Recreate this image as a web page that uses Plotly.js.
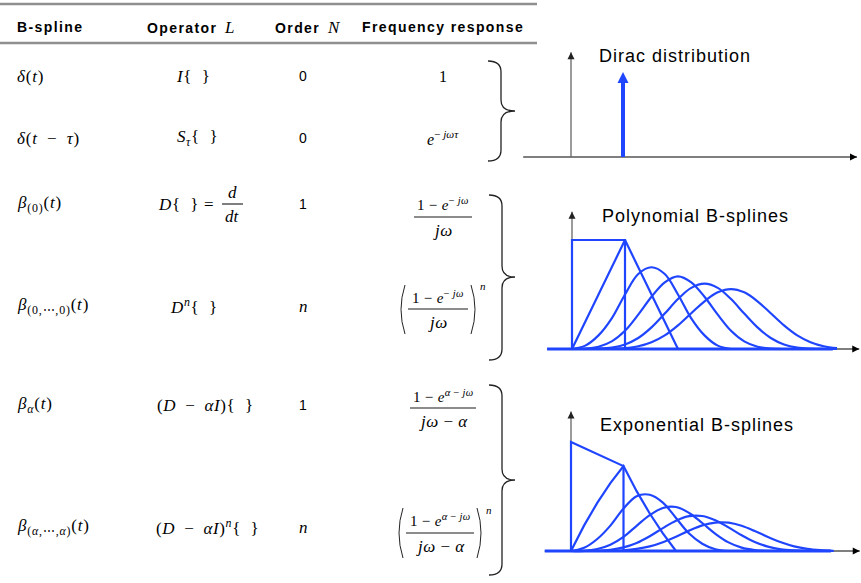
<!DOCTYPE html>
<html><head><meta charset="utf-8">
<script src="https://cdn.plot.ly/plotly-3.0.1.min.js"></script>
<style>html,body{margin:0;padding:0;background:#fff;}</style>
</head><body><div id="chart" style="width:861px;height:583px;"></div>
<script>
// ---------------- data ----------------
const headers = ['B-spline', 'Operator', 'Order', 'Frequency response'];
const headerSymbols = ['', 'L', 'N', ''];
const bsplineNames = [
  '<i>δ</i>(<i>t</i>)',
  '<i>δ</i>(<i>t</i> − <i>τ</i>)',
  '<i>β</i><sub>(0)</sub>(<i>t</i>)',
  '<i>β</i><sub>(0,⋯,0)</sub>(<i>t</i>)',
  '<i>β</i><sub><i>α</i></sub>(<i>t</i>)',
  '<i>β</i><sub>(<i>α</i>,⋯,<i>α</i>)</sub>(<i>t</i>)'
];
const operators = [
  '<i>I</i>{  }',
  '<i>S</i><sub><i>τ</i></sub>{  }',
  '<i>D</i>{  } =',
  '<i>D</i><sup><i>n</i></sup>{  }',
  '(<i>D</i> − <i>αI</i>){  }',
  '(<i>D</i> − <i>αI</i>)<sup><i>n</i></sup>{  }'
];
const orders = ['0', '0', '1', 'n', '1', 'n'];
const freqSimple = ['1', '<i>e</i><sup>− <i>jωτ</i></sup>'];
const freqNumerators = ['1 − <i>e</i><sup>− <i>jω</i></sup>', '1 − <i>e</i><sup>− <i>jω</i></sup>',
  '1 − <i>e</i><sup><i>α</i> − <i>jω</i></sup>', '1 − <i>e</i><sup><i>α</i> − <i>jω</i></sup>'];
const freqDenominators = ['<i>jω</i>', '<i>jω</i>', '<i>jω</i> − <i>α</i>', '<i>jω</i> − <i>α</i>'];
const plotTitles = ['Dirac distribution', 'Polynomial B-splines', 'Exponential B-splines'];

// Dirac
const diracX = [1];
const diracH = [0.78];

// polynomial B-splines
const poly0X = [0, 0, 1, 1];
const poly0Y = [0, 1, 1, 0];
const poly1X = [0, 1, 2];
const poly1Y = [0, 1, 0];
const t3 = [0,0.25,0.5,0.75,1,1.25,1.5,1.75,2,2.25,2.5,2.75,3];
const t4 = [0,0.25,0.5,0.75,1,1.25,1.5,1.75,2,2.25,2.5,2.75,3,3.25,3.5,3.75,4];
const t5 = [0,0.25,0.5,0.75,1,1.25,1.5,1.75,2,2.25,2.5,2.75,3,3.25,3.5,3.75,4,4.25,4.5,4.75,5];
const poly2Y = [0,0.031,0.125,0.281,0.5,0.688,0.75,0.688,0.5,0.281,0.125,0.031,0];
const poly3Y = [0,0.003,0.021,0.070,0.167,0.315,0.479,0.612,0.667,0.612,0.479,0.315,0.167,0.070,0.021,0.003,0];
const poly4Y = [0,0.0002,0.003,0.013,0.042,0.101,0.198,0.325,0.458,0.561,0.599,0.561,0.458,0.325,0.198,0.101,0.042,0.013,0.003,0.0002,0];
const poly5Y = [0,0,0.0003,0.002,0.008,0.025,0.062,0.125,0.217,0.328,0.438,0.520,0.550,0.520,0.438,0.328,0.217,0.125,0.062,0.025,0.008];

// exponential B-splines
const exp0X = [0, 0, 1, 1];
const exp0Y = [0, 1, 0.779, 0];
const t2 = [0,0.25,0.5,0.75,1,1.25,1.5,1.75,2];
const exp1Y = [0,0.235,0.441,0.622,0.779,0.549,0.344,0.161,0];
const exp2Y = [0,0.029,0.110,0.233,0.389,0.503,0.516,0.444,0.303,0.160,0.067,0.016,0];
const exp3Y = [0,0.002,0.018,0.058,0.130,0.231,0.329,0.395,0.404,0.349,0.257,0.158,0.079,0.031,0.009,0.001,0];
const exp4Y = [0,0.0002,0.002,0.011,0.033,0.074,0.136,0.210,0.278,0.320,0.321,0.282,0.217,0.144,0.083,0.040,0.015,0.005,0.001,0,0];
const exp5Y = [0,0,0.0002,0.002,0.007,0.019,0.042,0.081,0.131,0.187,0.235,0.261,0.260,0.231,0.183,0.129,0.080,0.043,0.020,0.008,0.002];

// ---------------- layout helpers ----------------
const W = 861, H = 583;
const SANS = 'Liberation Sans, Arial, Helvetica, sans-serif';
const SERIF = 'Liberation Serif, Times New Roman, serif';
const BLUE = '#1f45ff';

function rangeFor(ox, oy, ux, uy) {
  return { x: [(0 - ox) / ux, (W - ox) / ux], y: [(oy - H) / uy, oy / uy] };
}
const dir = rangeFor(571, 157, 52, 109);
const pol = rangeFor(572, 349, 53, 109);
const exr = rangeFor(571, 551, 52.5, 109);

function hiddenAx(extra) {
  return Object.assign({ visible: false, fixedrange: true, showgrid: false, zeroline: false, domain: [0, 1] }, extra);
}

const traces = [];
function line(x, y, xa, ya, color, width, shape) {
  traces.push({ type: 'scatter', mode: 'lines', x: x, y: y, xaxis: xa, yaxis: ya,
    line: { color: color, width: width, shape: shape || 'linear', smoothing: 1 }, hoverinfo: 'skip', cliponaxis: false });
}
function marker(x, y, xa, ya, symbol, size, color) {
  traces.push({ type: 'scatter', mode: 'markers', x: x, y: y, xaxis: xa, yaxis: ya,
    marker: { symbol: symbol, size: size, color: color, line: { width: 0 } }, hoverinfo: 'skip', cliponaxis: false });
}

// base pixel subplot (empty)
traces.push({ type: 'scatter', mode: 'lines', x: [], y: [], xaxis: 'x', yaxis: 'y', hoverinfo: 'skip' });

// axes of the three small plots
function plotAxes(xa, ya, xStart, xEnd, yTop) {
  line([xStart, xEnd], [0, 0], xa, ya, '#000', 1.2);
  line([0, 0], [0, yTop], xa, ya, '#666', 1.3);
}
plotAxes('x2', 'y2', -0.92, 5.5, 0.96);
plotAxes('x3', 'y3', -0.47, 5.42, 1.26);
plotAxes('x4', 'y4', -0.5, 5.5, 1.28);

// Dirac
line([diracX[0], diracX[0]], [0, diracH[0] - 0.04], 'x2', 'y2', BLUE, 4);
marker(diracX, diracH, 'x2', 'y2', 'arrow-up', 11, BLUE);

// polynomial
line([-0.47, 4.92], [0, 0], 'x3', 'y3', BLUE, 3);
line(poly0X, poly0Y, 'x3', 'y3', BLUE, 2.2);
line(poly1X, poly1Y, 'x3', 'y3', BLUE, 2.2);
line(t3, poly2Y, 'x3', 'y3', BLUE, 2.2, 'spline');
line(t4, poly3Y, 'x3', 'y3', BLUE, 2.2, 'spline');
line(t5, poly4Y, 'x3', 'y3', BLUE, 2.2, 'spline');
line(t5, poly5Y, 'x3', 'y3', BLUE, 2.2, 'spline');

// exponential
line([-0.5, 4.95], [0, 0], 'x4', 'y4', BLUE, 3);
line(exp0X, exp0Y, 'x4', 'y4', BLUE, 2.2);
line(t2, exp1Y, 'x4', 'y4', BLUE, 2.2);
line(t3, exp2Y, 'x4', 'y4', BLUE, 2.2, 'spline');
line(t4, exp3Y, 'x4', 'y4', BLUE, 2.2, 'spline');
line(t5, exp4Y, 'x4', 'y4', BLUE, 2.2, 'spline');
line(t5, exp5Y, 'x4', 'y4', BLUE, 2.2, 'spline');

// arrowheads of the axes
marker([5.5], [0], 'x2', 'y2', 'arrow-right', 7, '#000');
marker([0], [0.96], 'x2', 'y2', 'arrow-up', 7, '#222');
marker([5.42], [0], 'x3', 'y3', 'arrow-right', 7, '#000');
marker([0], [1.26], 'x3', 'y3', 'arrow-up', 7, '#222');
marker([5.5], [0], 'x4', 'y4', 'arrow-right', 7, '#000');
marker([0], [1.28], 'x4', 'y4', 'arrow-up', 7, '#222');

// ---------------- annotations (table) ----------------
const annotations = [];
const LS = (s, px) => '<span style="letter-spacing:' + px + 'px">' + s + '</span>';
function ann(x, y, text, opt) {
  opt = opt || {};
  annotations.push({ x: x, y: y, xref: 'x', yref: 'y', text: opt.ls ? LS(text, opt.ls) : text, showarrow: false,
    xanchor: opt.xa || 'center', yanchor: 'middle',
    font: { family: opt.family || SERIF, size: opt.size || 17, color: '#000' } });
}

// header
const headerX = [15, 145, 273, 360];
headers.forEach((h, i) => {
  let t = LS('<b>' + h + '</b>', 1.4);
  if (headerSymbols[i]) t += '  <span style="font-family:Liberation Serif;font-size:17px"><i>' + headerSymbols[i] + '</i></span>';
  ann(headerX[i], 27, t, { xa: 'left', family: SANS, size: 14 });
});

const rowY = [76, 138, 204, 306, 405, 527];
const wide = s => s.replace(/ − /g, '\u2002−\u2002');
bsplineNames.forEach((s, i) => ann(15, rowY[i], wide(s), { xa: 'left', size: 17, ls: 0.8 }));
const opX = [193, 197, 186, 194, 205, 207];
operators.forEach((s, i) => ann(opX[i], rowY[i], wide(s), { size: 17, ls: 0.6 }));
ann(232, 192, '<i>d</i>', { size: 17 });
ann(232, 216, '<i>dt</i>', { size: 17 });
orders.forEach((s, i) => {
  if (s === 'n') ann(303, rowY[i], '<i>n</i>', { size: 17 });
  else ann(303, rowY[i], s, { family: SANS, size: 14 });
});
ann(443, rowY[0], freqSimple[0], { size: 16 });
ann(443, rowY[1], freqSimple[1], { size: 16 });

// fraction geometry (layout only)
const fracCX = [443, 438, 443, 440];
const fracNumY = [204, 297, 396, 520];
const fracDenY = [230, 322, 421, 546];
const fracBarY = [217, 309, 408, 533];
const fracHalf = [29, 30, 33, 34];
freqNumerators.forEach((s, i) => {
  ann(fracCX[i], fracNumY[i], s, { size: 15, ls: 0.3 });
  ann(fracCX[i], fracDenY[i], freqDenominators[i], { size: 17, ls: 0.5 });
});
ann(483, 286, '<i>n</i>', { size: 11 });
ann(489, 510, '<i>n</i>', { size: 11 });

// plot titles
const titleX = [597, 600, 598];
const titleY = [56, 216, 425];
plotTitles.forEach((s, i) => ann(titleX[i], titleY[i], s, { xa: 'left', family: SANS, size: 18, ls: 1.0 }));

// ---------------- shapes (rules, braces, fraction bars, parentheses) ----------------
const shapes = [];
function seg(x0, y0, x1, y1, color, w) {
  shapes.push({ type: 'line', xref: 'x', yref: 'y', x0: x0, y0: y0, x1: x1, y1: y1, line: { color: color, width: w } });
}
function pth(d, color, w) {
  shapes.push({ type: 'path', xref: 'x', yref: 'y', path: d, line: { color: color, width: w } });
}
seg(0, 4, 537, 4, '#8f8f8f', 2.6);
seg(0, 43, 537, 43, '#8f8f8f', 2.6);
// d/dt bar
seg(222, 204, 243, 204, '#000', 1);
// fraction bars
fracCX.forEach((cx, i) => seg(cx - fracHalf[i], fracBarY[i], cx + fracHalf[i], fracBarY[i], '#666', 1.4));
// big parentheses
function paren(xl, xr, top, bot) {
  const mid = (top + bot) / 2;
  pth('M ' + (xl + 5) + ' ' + top + ' Q ' + (xl - 3) + ' ' + mid + ' ' + (xl + 5) + ' ' + bot, '#222', 1);
  pth('M ' + (xr - 5) + ' ' + top + ' Q ' + (xr + 3) + ' ' + mid + ' ' + (xr - 5) + ' ' + bot, '#222', 1);
}
paren(400, 476, 285, 334);
paren(398, 482, 508, 558);
// braces
function brace(xl, xm, xr, top, bot, mid) {
  const r = 11;
  const d = 'M ' + xl + ' ' + top + ' Q ' + xm + ' ' + top + ' ' + xm + ' ' + (top + r) +
    ' L ' + xm + ' ' + (mid - r) + ' Q ' + xm + ' ' + mid + ' ' + xr + ' ' + mid +
    ' Q ' + xm + ' ' + mid + ' ' + xm + ' ' + (mid + r) +
    ' L ' + xm + ' ' + (bot - r) + ' Q ' + xm + ' ' + bot + ' ' + xl + ' ' + bot;
  pth(d, '#222', 1.3);
}
brace(488, 501, 515, 61, 161, 111);
brace(489, 502, 515, 195, 360, 277);
brace(489, 502, 515, 385, 575, 480);

const layout = {
  width: W, height: H,
  margin: { l: 0, r: 0, t: 0, b: 0 },
  paper_bgcolor: '#fff', plot_bgcolor: 'rgba(0,0,0,0)',
  showlegend: false, hovermode: false,
  xaxis: hiddenAx({ range: [0, W] }),
  yaxis: hiddenAx({ range: [H, 0] }),
  xaxis2: hiddenAx({ range: dir.x, overlaying: 'x', anchor: 'y2' }),
  yaxis2: hiddenAx({ range: dir.y, overlaying: 'y', anchor: 'x2' }),
  xaxis3: hiddenAx({ range: pol.x, overlaying: 'x', anchor: 'y3' }),
  yaxis3: hiddenAx({ range: pol.y, overlaying: 'y', anchor: 'x3' }),
  xaxis4: hiddenAx({ range: exr.x, overlaying: 'x', anchor: 'y4' }),
  yaxis4: hiddenAx({ range: exr.y, overlaying: 'y', anchor: 'x4' }),
  annotations: annotations,
  shapes: shapes
};
Plotly.newPlot('chart', traces, layout, { staticPlot: true, displayModeBar: false });
</script></body></html>
